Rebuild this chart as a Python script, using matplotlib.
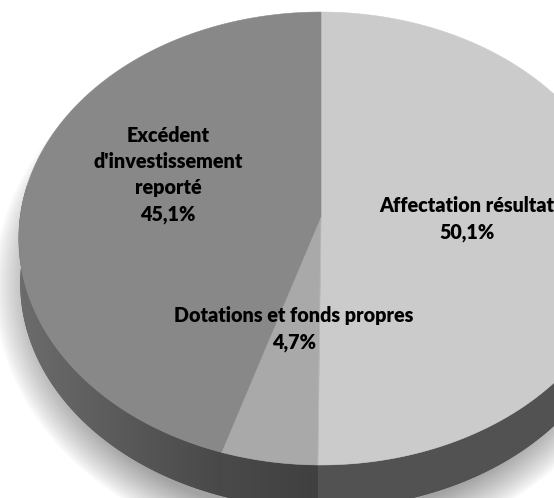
# -*- coding: utf-8 -*-
import numpy as np
import matplotlib
matplotlib.use('Agg')
import matplotlib.pyplot as plt
from matplotlib.patches import Polygon

# Data
labels = ["Affectation résultat\n50,1%", "Dotations et fonds propres\n4,7%",
          "Excédent\nd'investissement\nreporté\n45,1%"]
values = [50.1, 4.7, 45.1]
top_grays = ['#cbcbcb', '#a9a9a9', '#888888']
side_grays = [('#525252', '#525252'), ('#4a4a4a', '#404040'), ('#6c6c6c', '#484848')]
label_pos = [(467, 219), (294, 329), (168, 175)]

# Perspective of the pie inside the image, in pixels
cx, cy = 321, 218
rx, ry, k = 301, 224.6, 0.0905
depth = 45
wall_scale = 0.995
fsize = 14.2


def project(theta, drop=0.0, scale=1.0):
    # clockwise angle from the top of the pie
    X = np.sin(theta)
    Y = np.cos(theta)
    w = 1 + k * Y
    return cx + scale * rx * X / w, cy - scale * ry * Y / w + drop


fig = plt.figure(figsize=(5.54, 4.98), dpi=100)
fig.patch.set_facecolor('white')
ax = fig.add_axes([0, 0, 1, 1])
ax.set_xlim(0, 554)
ax.set_ylim(498, 0)

# Soft shadow under the pie, rings from white to grey
t_ring = np.linspace(0, 2 * np.pi, 300)
for s in np.linspace(1.0, 0.86, 40):
    g = 1.0 - 0.36 * ((1.0 - s) / 0.14) ** 0.85
    ax.add_patch(Polygon(np.column_stack([318 + s * 325 * np.cos(t_ring), 286 + s * 268 * np.sin(t_ring)]),
                         closed=True, facecolor=(g, g, g), edgecolor='none', zorder=1.2))

# Slice boundaries, clockwise from 12 o'clock
fractions = np.array(values) / sum(values)
edges = np.concatenate([[0], np.cumsum(fractions)]) * 2 * np.pi

# Side wall first (only the front half of the pie shows)
t_all = np.linspace(np.pi / 2 - 0.15, 3 * np.pi / 2 + 0.15, 400)
x0, y0 = project(t_all)
x1, y1 = project(t_all, drop=depth, scale=wall_scale)
ax.add_patch(Polygon(np.column_stack([np.concatenate([x0, x1[::-1]]), np.concatenate([y0, y1[::-1]])]),
                     closed=True, facecolor='#4c4c4c', edgecolor='none', zorder=1.5))
for i in range(len(values)):
    lo = max(edges[i], np.pi / 2 - 0.15)
    hi = min(edges[i + 1], 3 * np.pi / 2 + 0.15)
    t = np.linspace(lo, hi, 200)
    x0, y0 = project(t)
    x1, y1 = project(t, drop=depth, scale=wall_scale)
    pts = np.column_stack([np.concatenate([x0, x1[::-1]]), np.concatenate([y0, y1[::-1]])])
    poly = Polygon(pts, closed=True, facecolor='none', edgecolor='none')
    ax.add_patch(poly)
    c0, c1 = side_grays[i]
    x_left, x_right = pts[:, 0].min(), pts[:, 0].max()
    cmap = matplotlib.colors.LinearSegmentedColormap.from_list('side', [c1, c0])
    img = ax.imshow(np.linspace(0, 1, 256).reshape(1, -1)[:, ::-1], cmap=cmap,
                    extent=(x_left, x_right, pts[:, 1].max(), pts[:, 1].min()),
                    aspect='auto', zorder=2, vmin=0, vmax=1)
    img.set_clip_path(poly)

# Top face
for i in range(len(values)):
    t = np.linspace(edges[i], edges[i + 1], 300)
    x, y = project(t)
    pts = np.column_stack([np.concatenate([[cx], x]), np.concatenate([[cy], y])])
    ax.add_patch(Polygon(pts, closed=True, facecolor=top_grays[i], edgecolor=top_grays[i],
                         lw=0.4, zorder=3))

# Thin light lines between slices
for e in edges[1:-1]:
    x, y = project(np.array([e]))
    ax.plot([cx, x[0]], [cy, y[0]], color='#c4c4c4', lw=0.7, alpha=0.5, zorder=4)

for txt, pos in zip(labels, label_pos):
    ax.text(pos[0], pos[1], txt, ha='center', va='center', fontsize=fsize, fontweight='heavy',
            family='Lato', color='black', linespacing=1.45, zorder=5)

ax.set_xlim(0, 554)
ax.set_ylim(498, 0)
ax.axis('off')
fig.savefig('out.png', dpi=100)
